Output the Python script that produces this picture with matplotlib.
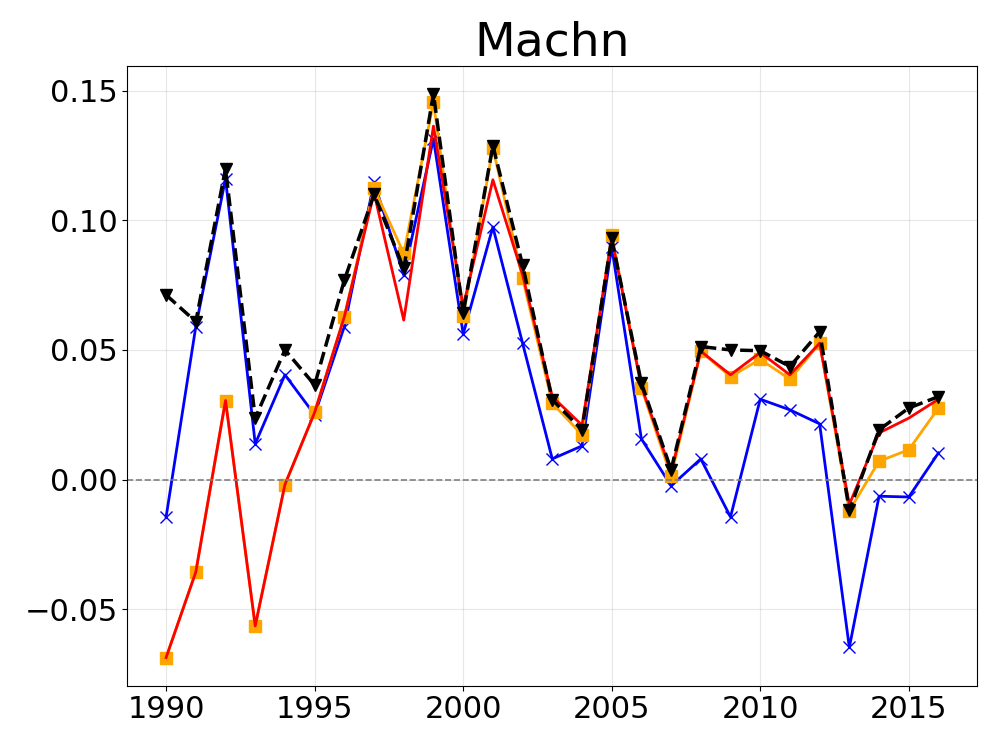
import numpy as np
import matplotlib.pyplot as plt

years = np.arange(1990, 2017)

blue_vals = [-0.0144, 0.059, 0.116, 0.0138, 0.0404, 0.025, 0.059, 0.1147, 0.0788, 0.1314,
             0.0561, 0.0974, 0.0526, 0.008, 0.013, 0.0897, 0.0157, -0.0024, 0.008, -0.0144,
             0.031, 0.0269, 0.0215, -0.0647, -0.0064, -0.0067, 0.0103]
orange_vals = [-0.0686, -0.0356, 0.0305, -0.0564, -0.0019, 0.0259, 0.0628, 0.1124, 0.0872, 0.1455,
               0.063, 0.1279, 0.0776, 0.0295, 0.0173, 0.0942, 0.0353, 0.0013, 0.0494, 0.0397,
               0.0464, 0.0387, 0.0526, -0.012, 0.0071, 0.0115, 0.0276]
red_vals = [-0.0686, -0.0356, 0.0305, -0.0564, -0.0019, 0.0259, 0.0628, 0.1105, 0.0615, 0.1363,
            0.0667, 0.1156, 0.079, 0.032, 0.021, 0.093, 0.036, 0.003, 0.0495, 0.0404,
            0.049, 0.0404, 0.0526, -0.0096, 0.018, 0.0237, 0.031]
black_vals = [0.0712, 0.0609, 0.1199, 0.0237, 0.05, 0.0365, 0.0769, 0.110, 0.0814, 0.1487,
              0.0641, 0.1288, 0.0827, 0.0308, 0.0192, 0.093, 0.0372, 0.0038, 0.0513, 0.05,
              0.0497, 0.0436, 0.057, -0.0118, 0.0192, 0.0276, 0.032]

fig, ax = plt.subplots(figsize=(9.96, 7.47), dpi=100)

ax.plot(years, blue_vals, color="blue", marker="x", markersize=8, linewidth=2)
ax.plot(years, orange_vals, color="orange", marker="s", markersize=8, linewidth=2)
ax.plot(years, red_vals, color="red", linewidth=2)
ax.plot(years, black_vals, color="black", marker="v", markersize=9, linewidth=2.5,
        linestyle="--")
ax.axhline(0, color="gray", linestyle="--", linewidth=1.2)

ax.set_title("Machn", fontsize=34)
ax.tick_params(labelsize=22)
ax.set_xticks([1990, 1995, 2000, 2005, 2010, 2015])
ax.set_yticks([-0.05, 0.0, 0.05, 0.10, 0.15])
ax.grid(True, alpha=0.3)

fig.subplots_adjust(left=0.128, right=0.981, top=0.912, bottom=0.082)
fig.savefig("out.png")
